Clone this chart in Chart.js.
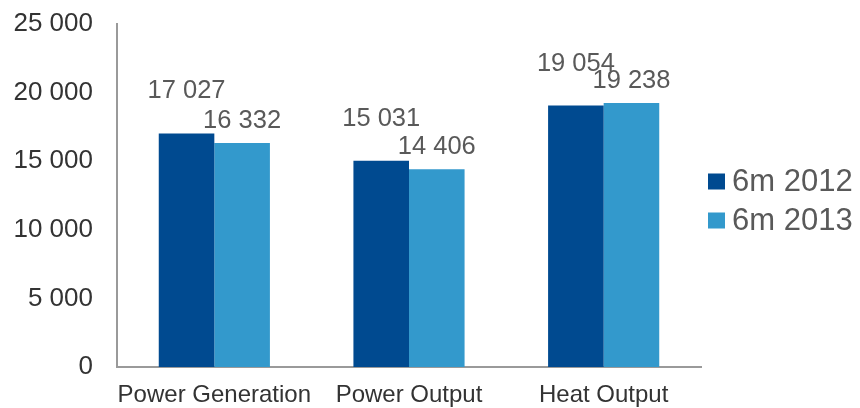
<!DOCTYPE html>
<html>
<head>
<meta charset="utf-8">
<script src="https://cdn.jsdelivr.net/npm/chart.js@4/dist/chart.umd.min.js"></script>
<style>
  html, body { margin: 0; padding: 0; background: #ffffff; }
  #wrap { width: 860px; height: 408px; position: relative; }
</style>
</head>
<body>
<div id="wrap"><canvas id="chart" width="860" height="408"></canvas></div>
<script>
// Output indicators, first half of the year
const categories = ['Power Generation', 'Power Output', 'Heat Output'];
const seriesNames = ['6m 2012', '6m 2013'];
const values2012 = [17027, 15031, 19054];
const values2013 = [16332, 14406, 19238];
const yTicks = [0, 5000, 10000, 15000, 20000, 25000];

const seriesColors = ['#004A90', '#3399CC'];
const FONT = '"Liberation Sans", Arial, sans-serif';

// "17027" -> "17 027"
function spaced(v) {
  return String(Math.round(v)).replace(/\B(?=(\d{3})+(?!\d))/g, ' ');
}

// Value labels above each bar; the first series sits a line higher
const valueLabels = {
  id: 'valueLabels',
  afterDatasetsDraw(chart) {
    const ctx = chart.ctx;
    const lift = [42, 22];
    ctx.save();
    ctx.font = '25.5px ' + FONT;
    ctx.fillStyle = '#595959';
    ctx.textAlign = 'center';
    ctx.textBaseline = 'middle';
    chart.data.datasets.forEach((ds, di) => {
      chart.getDatasetMeta(di).data.forEach((bar, i) => {
        ctx.fillText(spaced(ds.data[i]), bar.x, bar.y - lift[di]);
      });
    });
    ctx.restore();
  }
};

// Legend block on the right
const sideLegend = {
  id: 'sideLegend',
  afterDraw(chart) {
    const ctx = chart.ctx;
    const x = 708, y0 = 181.5, step = 39;
    ctx.save();
    ctx.font = '31px ' + FONT;
    ctx.textBaseline = 'middle';
    ctx.textAlign = 'left';
    chart.data.datasets.forEach((ds, i) => {
      const cy = y0 + i * step;
      ctx.fillStyle = ds.backgroundColor;
      ctx.fillRect(x, cy - 8, 17, 16);
      ctx.fillStyle = '#595959';
      ctx.fillText(ds.label, x + 24, cy + 1);
    });
    ctx.restore();
  }
};

new Chart(document.getElementById('chart'), {
  type: 'bar',
  data: {
    labels: categories,
    datasets: [
      { label: seriesNames[0], data: values2012, backgroundColor: seriesColors[0] },
      { label: seriesNames[1], data: values2013, backgroundColor: seriesColors[1] }
    ]
  },
  options: {
    responsive: false,
    animation: false,
    devicePixelRatio: 1,
    categoryPercentage: 0.571,
    barPercentage: 1.0,
    layout: { padding: { top: 24, right: 159, bottom: 0, left: 0 } },
    plugins: {
      legend: { display: false },
      tooltip: { enabled: false }
    },
    scales: {
      x: {
        grid: { display: false, drawTicks: false },
        border: { display: true, color: '#9A9A9A', width: 2 },
        ticks: {
          color: '#333333',
          font: { family: FONT, size: 24 },
          padding: 14,
          maxRotation: 0,
          autoSkip: false
        },
        afterFit(scale) {
          scale.height = 41;
          scale.paddingLeft = 0;
          scale.paddingRight = 0;
        }
      },
      y: {
        min: 0,
        max: 25000,
        afterBuildTicks(scale) { scale.ticks = yTicks.map(v => ({ value: v })); },
        grid: { display: false, drawTicks: false },
        border: { display: true, color: '#9A9A9A', width: 2 },
        ticks: {
          color: '#333333',
          font: { family: FONT, size: 26 },
          padding: 24,
          callback: (v) => spaced(v)
        },
        afterFit(scale) {
          scale.width = 117;
          scale.paddingTop = 0;
          scale.paddingBottom = 0;
        }
      }
    }
  },
  plugins: [valueLabels, sideLegend]
});
</script>
</body>
</html>
